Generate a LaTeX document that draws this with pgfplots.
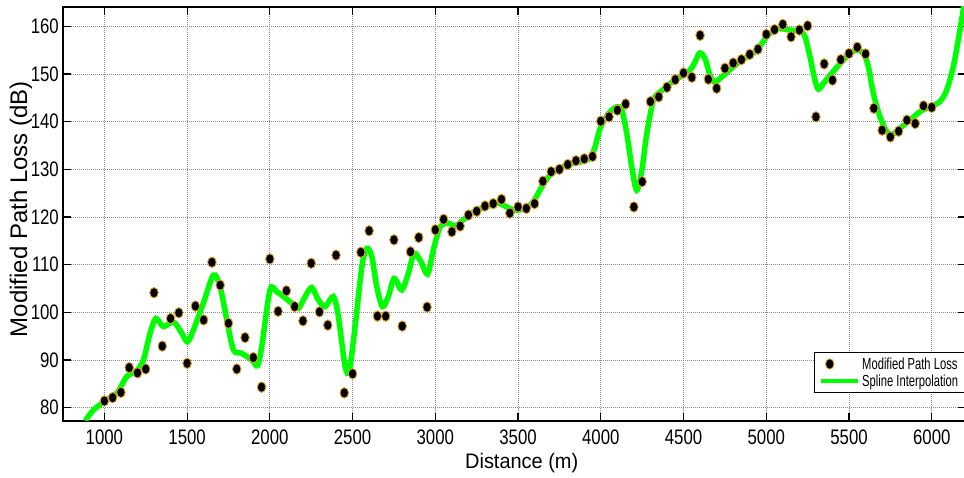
\documentclass[border=0pt]{standalone}
\usepackage{fontspec}
\setmainfont{Liberation Sans}
\newfontfamily\narrowfont{Liberation Sans}[FakeStretch=0.8]
\newfontfamily\legfont{Liberation Sans}[FakeStretch=0.7]
\newfontfamily\xlabfont{Liberation Sans}[FakeStretch=0.95]
\usepackage{pgfplots}
\usepackage{pgfplotstable}
\pgfplotsset{compat=1.18}
\definecolor{edgeorange}{RGB}{222,160,40}
\definecolor{splinegreen}{RGB}{0,255,0}

\pgfplotstableread{
x y
1000 81.4
1050 82.1
1100 83.2
1150 88.4
1200 87.3
1250 88.1
1300 104.1
1350 92.9
1400 98.7
1450 99.9
1500 89.3
1550 101.3
1600 98.4
1650 110.5
1700 105.7
1750 97.7
1800 88.1
1850 94.7
1900 90.5
1950 84.3
2000 111.2
2050 100.2
2100 104.5
2150 101.2
2200 98.2
2250 110.3
2300 100.1
2350 97.3
2400 112.0
2450 83.1
2500 87.1
2550 112.6
2600 117.1
2650 99.2
2700 99.2
2750 115.2
2800 97.1
2850 112.7
2900 115.7
2950 101.1
3000 117.3
3050 119.5
3100 116.9
3150 118.1
3200 120.4
3250 121.2
3300 122.3
3350 122.8
3400 123.7
3450 120.8
3500 122.1
3550 121.8
3600 122.8
3650 127.5
3700 129.5
3750 130.0
3800 131.0
3850 131.8
3900 132.2
3950 132.7
4000 140.1
4050 141.0
4100 142.4
4150 143.7
4200 122.1
4250 127.4
4300 144.2
4350 145.2
4400 147.2
4450 148.8
4500 150.2
4550 149.3
4600 158.1
4650 148.9
4700 147.0
4750 151.2
4800 152.3
4850 153.0
4900 154.1
4950 155.2
5000 158.3
5050 159.3
5100 160.4
5150 157.8
5200 159.2
5250 160.1
5300 141.0
5350 152.1
5400 148.7
5450 153.0
5500 154.3
5550 155.6
5600 154.2
5650 142.8
5700 138.2
5750 136.8
5800 138.0
5850 140.3
5900 139.6
5950 143.3
6000 143.0
}\pathloss

\pgfplotstableread{
x y
885 77.3
934 79.5
1000 81.3
1075 83.0
1135 86.5
1196 87.8
1236 90.0
1276 95.6
1311 98.7
1357 97.0
1417 98.0
1468 95.6
1502 93.8
1538 96.3
1598 101.9
1659 107.8
1699 105.4
1740 98.4
1780 92.1
1830 91.4
1891 90.0
1925 88.8
1951 92.8
2001 104.7
2042 104.3
2082 103.3
2132 101.9
2172 100.8
2213 103.3
2253 105.2
2293 102.6
2334 101.2
2384 103.3
2414 99.1
2455 88.6
2481 87.9
2515 97.0
2556 109.6
2586 113.4
2616 111.7
2646 105.4
2680 101.2
2716 103.3
2751 107.1
2797 104.7
2837 108.2
2872 112.4
2913 110.6
2953 108.0
2988 113.1
3029 117.9
3079 118.7
3119 118.1
3169 119.4
3220 120.8
3280 121.8
3341 122.5
3381 122.9
3431 122.1
3481 121.4
3542 121.8
3592 123.2
3643 126.3
3693 128.8
3754 130.2
3814 131.1
3885 131.6
3935 132.3
3965 134.7
3996 138.6
4046 141.7
4096 143.1
4127 142.4
4157 137.5
4187 130.5
4217 125.6
4248 129.8
4278 137.5
4318 144.5
4358 146.2
4419 148.0
4479 149.4
4539 150.8
4569 152.5
4598 154.4
4630 153.2
4660 149.7
4690 148.3
4741 149.7
4801 151.5
4850 152.9
4930 154.6
4970 156.2
5003 157.8
5063 159.5
5144 159.2
5204 159.0
5234 157.8
5264 153.6
5294 148.7
5315 146.8
5345 148.0
5385 149.7
5446 152.2
5506 154.3
5546 155.1
5587 154.3
5617 151.5
5647 145.9
5687 141.0
5728 137.9
5758 137.2
5808 138.6
5868 140.3
5929 142.1
5989 143.1
6049 144.2
6090 146.6
6130 151.5
6160 157.1
6190 163.4
6210 168.0
}\spline

\begin{document}
\begin{tikzpicture}
\begin{axis}[
  scale only axis,
  width=903pt, height=414pt,
  xmin=750, xmax=6207,
  ymin=77.2, ymax=164.05,
  xtick={1000,1500,...,6000},
  ytick={80,90,...,160},
  scaled x ticks=false, scaled y ticks=false,
  /pgf/number format/1000 sep={},
  /pgf/number format/assume math mode=true,
  tick align=inside,
  major tick length=8pt,
  tick style={line width=1.2pt, black},
  axis line style={line width=1.2pt, black},
  grid=major,
  grid style={line width=0.8pt, gray!90, dash pattern=on 1pt off 1pt},
  xticklabel style={font=\narrowfont\fontsize{21}{21}\selectfont, inner sep=2pt, yshift=-7pt},
  yticklabel style={font=\narrowfont\fontsize{21}{21}\selectfont, inner sep=2pt, xshift=-2pt},
  xlabel={Distance (m)},
  ylabel={Modified Path Loss (dB)},
  xlabel style={font=\xlabfont\fontsize{21}{24}\selectfont, at={(axis description cs:0.508,-0.1014)}, anchor=center},
  ylabel style={font=\fontsize{24}{28}\selectfont, at={(axis description cs:-0.0465,0.512)}, anchor=center, rotate=0},
  legend style={draw=black, line width=0.8pt, fill=white,
    at={(axis description cs:1,0.0676)}, anchor=south east, xshift=-0.5pt,
    inner xsep=5pt, inner ysep=3pt,
    nodes={inner sep=2pt},
    font=\legfont\fontsize{16}{18}\selectfont},
  legend cell align=left,
]
\addplot[only marks, mark=*, mark size=5.2pt,
  mark options={xscale=0.82, fill=black, draw=edgeorange, line width=0.9pt}]
  table[x=x, y=y] {\pathloss};
\addlegendentry{Modified Path Loss}
\addplot[splinegreen, line width=5.5pt, smooth, no marks,
  legend image code/.code={\draw[splinegreen, line width=4pt] (0pt,0pt) -- (37pt,0pt);}]
  table[x=x, y=y] {\spline};
\addlegendentry{Spline Interpolation}
\end{axis}
\pgfresetboundingbox
\path ([xshift=-63pt,yshift=-57pt]current axis.south west) rectangle ([xshift=-2pt,yshift=7pt]current axis.north east);
\end{tikzpicture}
\end{document}
